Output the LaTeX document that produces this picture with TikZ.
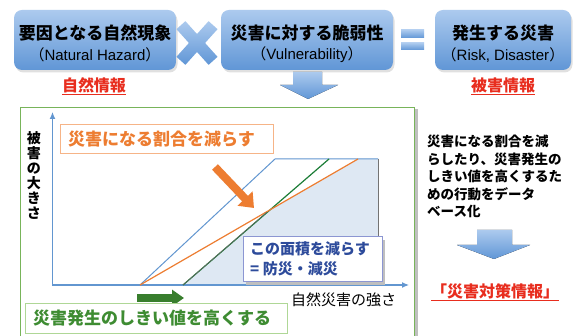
\documentclass[tikz,border=0pt]{standalone}
\usepackage{fontspec}
\setmainfont{Noto Sans CJK JP}
\newfontfamily\lat{Liberation Sans}
\usetikzlibrary{arrows.meta}
\definecolor{boxtop}{RGB}{172,202,238}
\definecolor{boxbot}{RGB}{96,150,214}
\definecolor{redtxt}{RGB}{232,45,30}
\definecolor{orangec}{RGB}{237,125,49}
\definecolor{orangeb}{RGB}{246,180,135}
\definecolor{bluel}{RGB}{98,150,208}
\definecolor{greenl}{RGB}{28,125,55}
\definecolor{areafill}{RGB}{222,232,243}
\definecolor{greenb}{RGB}{120,180,90}
\definecolor{greenlb}{RGB}{175,215,150}
\definecolor{greent}{RGB}{62,140,50}
\definecolor{navyt}{RGB}{45,75,155}
\definecolor{navyb}{RGB}{140,150,210}
\tikzset{
  topbox/.style={rounded corners=8pt, top color=boxtop, bottom color=boxbot, draw=none, minimum height=60pt, inner sep=0pt},
  boxshadow/.style={rounded corners=8pt, fill=black!12, draw=none, minimum height=60pt, inner sep=0pt},
  ttl/.style={inner sep=0pt, font=\fontsize{17}{20}\selectfont\bfseries},
  sub/.style={inner sep=0pt, font=\fontsize{15}{16}\selectfont},
  redlab/.style={inner sep=0pt, text=redtxt, font=\fontsize{16}{18}\selectfont\bfseries},
  blockarrow/.style={top color=boxtop, bottom color=boxbot, draw=none},
  lbl/.style={inner sep=0pt},
}
\begin{document}
\begin{tikzpicture}[x=1pt,y=-1pt]
\useasboundingbox (0,0) rectangle (574,336);
\fill[white] (0,0) rectangle (574,336);
% top boxes
\node[boxshadow, minimum width=162pt] (b1s) at (96.5,42.5) {};
\node[boxshadow, minimum width=172pt] (b2s) at (308.5,42.5) {};
\node[boxshadow, minimum width=136pt] (b3s) at (504.5,42.5) {};
\node[topbox, minimum width=162pt] (b1) at (95,40) {};
\node[topbox, minimum width=172pt] (b2) at (307,40) {};
\node[topbox, minimum width=136pt] (b3) at (503,40) {};
\node[ttl] (t1) at (95,33) {要因となる自然現象};
\node[sub] (s1) at (95,55) {（{\lat Natural Hazard}）};
\node[ttl] (t2) at (307,33) {災害に対する脆弱性};
\node[sub] (s2) at (307,55) {（{\lat Vulnerability}）};
\node[ttl] (t3) at (503,33) {発生する災害};
\node[sub] (s3) at (503,55) {（{\lat Risk, Disaster}）};
% times
\node[rectangle, minimum width=48pt, minimum height=12pt, rotate=48, inner sep=0pt, top color=boxtop, bottom color=boxbot] (xa) at (197,43) {};
\node[rectangle, minimum width=48pt, minimum height=12pt, rotate=-48, inner sep=0pt, top color=boxtop, bottom color=boxbot] (xb) at (197,43) {};
% equals
\node[rectangle, minimum width=23pt, minimum height=8pt, inner sep=0pt, top color=boxtop, bottom color=boxbot] (e1) at (412.5,34) {};
\node[rectangle, minimum width=23pt, minimum height=7pt, inner sep=0pt, top color=boxtop, bottom color=boxbot] (e2) at (412.5,46.5) {};
% red labels
\node[redlab] (n1) at (94,86) {\underline{自然情報}};
\node[redlab] (n2) at (503,86) {\underline{被害情報}};
% top down arrow
\fill[blockarrow] (293,72) -- (322,72) -- (322,85) -- (338,85) -- (308,99) -- (280,85) -- (293,85) -- cycle;
% big frame
\fill[black!25] (414,109) rectangle (418,336);
\draw[greenb, line width=1pt] (20.5,107.5) rectangle (414,338);
% shaded region
\fill[areafill] (183,285) -- (267,212) -- (358,159) -- (378,159) -- (378,285) -- cycle;
\draw[black!55, line width=0.8pt] (378,159) -- (378,285);
% axes
\draw[bluel, line width=1.2pt, -{Latex[length=7pt,width=6pt]}] (52.5,286) -- (52.5,112);
\draw[bluel, line width=1.2pt, -{Latex[length=7pt,width=6pt]}] (52,285) -- (409,285);
% lines
\draw[bluel, line width=1pt] (140,285) -- (275,159) -- (378,159);
\draw[greenl, line width=1.2pt] (183,285) -- (329,159);
\draw[orangec, line width=1.2pt] (140,285) -- (358,159);
\draw[black!60, line width=0.6pt] (183,285) -- (267,212);
% y label
\node[lbl, font=\fontsize{14}{15}\selectfont\bfseries, align=center] (yl) at (34,176) {被\\害\\の\\大\\き\\さ};
% orange box
\node[draw=orangeb, line width=1pt, fill=white, minimum width=213pt, minimum height=29pt, inner sep=0pt] (ob) at (166.5,139.5) {};
\node[lbl, text=orangec, font=\fontsize{17}{20}\selectfont\bfseries, anchor=west] (ot) at (68,139.5) {災害になる割合を減らす};
% orange diag arrow
\draw[orangec, line width=8pt, -{Triangle[length=13pt,width=20pt]}] (215,167) -- (254,208);
% blue label box
\fill[black!25] (246,240) rectangle (385,285);
\node[draw=navyb, line width=1pt, fill=white, minimum width=139pt, minimum height=45pt, inner sep=0pt] (bb) at (312.5,259.5) {};
\node[lbl, text=navyt, font=\fontsize{15}{18}\selectfont\bfseries, anchor=west] (bt1) at (250,249) {この面積を減らす};
\node[lbl, text=navyt, font=\fontsize{15}{18}\selectfont\bfseries, anchor=west] (bt2) at (250,269) {= 防災・減災};
% green arrow
\draw[greent!90!black, line width=8pt, -{Triangle[length=12pt,width=16pt]}] (137,298) -- (184,298);
% green box
\node[draw=greenlb, line width=1pt, fill=white, minimum width=262pt, minimum height=30pt, inner sep=0pt] (gb) at (156,319) {};
\node[lbl, text=greent, font=\fontsize{17}{20}\selectfont\bfseries, anchor=west] (gt) at (33,318) {災害発生のしきい値を高くする};
% x label
\node[lbl, font=\fontsize{15}{18}\selectfont, anchor=west] (xl) at (291,300) {自然災害の強さ};
% right text
\node[lbl, font=\fontsize{13.5}{17.5}\selectfont\bfseries, align=left, anchor=north west] (rt) at (427,135) {災害になる割合を減\\らしたり、災害発生の\\しきい値を高くするた\\めの行動をデータ\\ベース化};
% right down arrow
\fill[blockarrow] (477,230) -- (512,230) -- (512,245) -- (530,245) -- (494,259) -- (457,245) -- (477,245) -- cycle;
\node[redlab] (n3) at (495,292) {\underline{「災害対策情報」}};
\end{tikzpicture}
\end{document}
